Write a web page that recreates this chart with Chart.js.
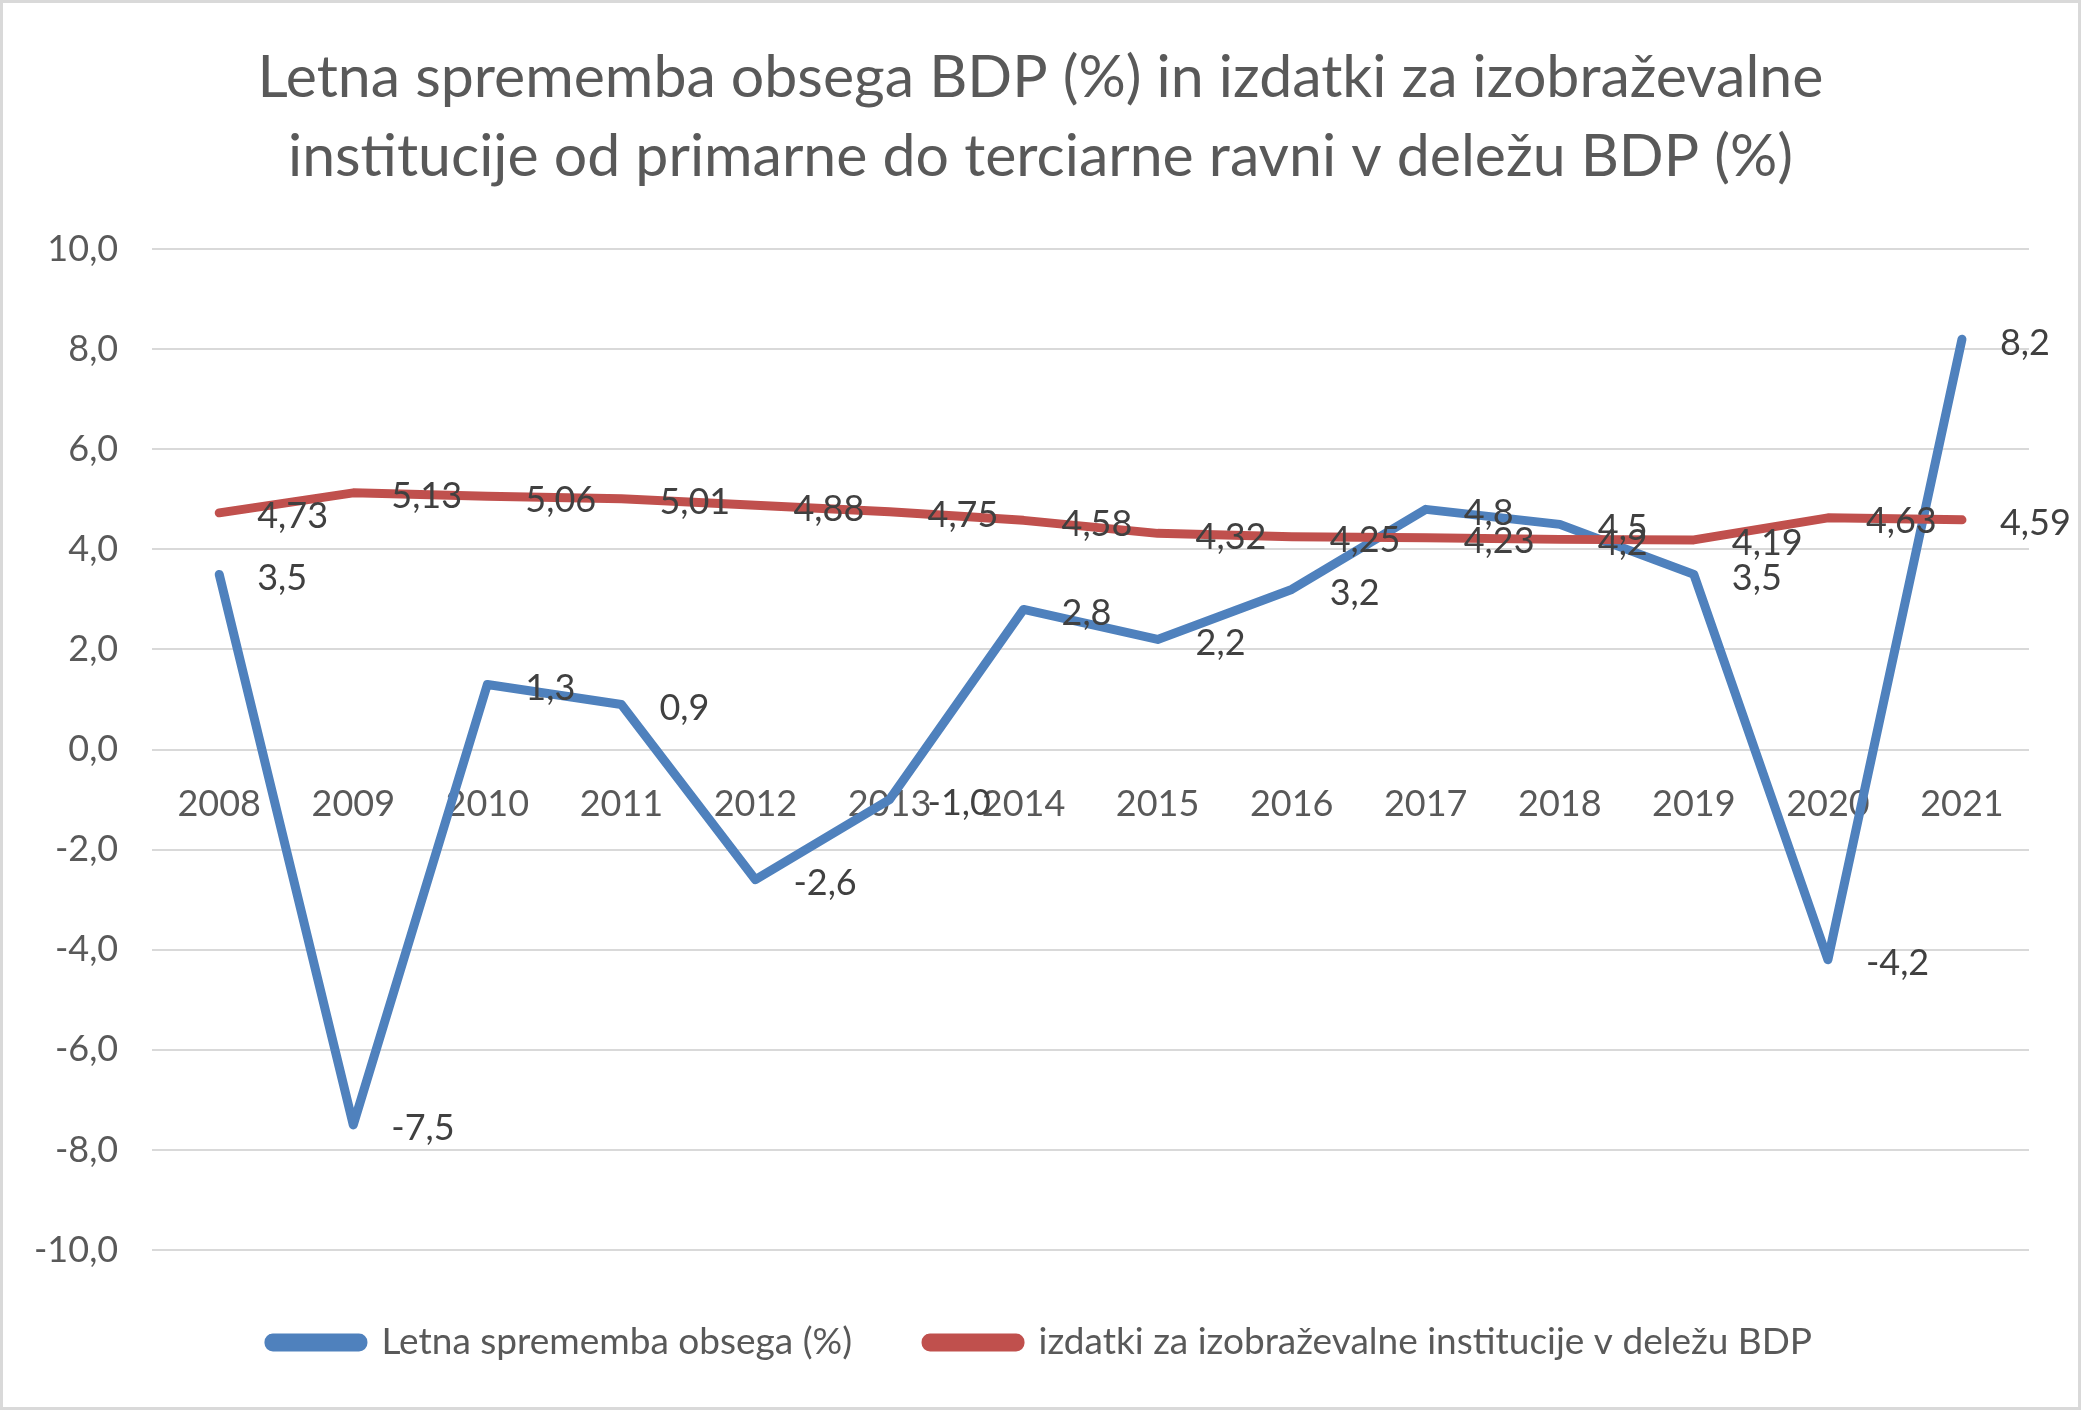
<!DOCTYPE html>
<html>
<head>
<meta charset="utf-8">
<script src="https://cdn.jsdelivr.net/npm/chart.js@4.4.1/dist/chart.umd.min.js"></script>
<style>
  body { margin: 0; background: #fff; }
</style>
</head>
<body>
<canvas id="myChart" width="2081" height="1410"></canvas>
<script>
const years = ['2008', '2009', '2010', '2011', '2012', '2013', '2014', '2015', '2016', '2017', '2018', '2019', '2020', '2021'];
const gdpChange = [3.5, -7.5, 1.3, 0.9, -2.6, -1.0, 2.8, 2.2, 3.2, 4.8, 4.5, 3.5, -4.2, 8.2];
const eduSpending = [4.73, 5.13, 5.06, 5.01, 4.88, 4.75, 4.58, 4.32, 4.25, 4.23, 4.2, 4.19, 4.63, 4.59];
const seriesNames = ['Letna sprememba obsega (%)', 'izdatki za izobraževalne institucije v deležu BDP'];
const titleLines = [
    'Letna sprememba obsega BDP (%) in izdatki za izobraževalne',
    'institucije od primarne do terciarne ravni v deležu BDP (%)'
];

const FONT = 'Lato';
const comma = (s) => String(s).replace('.', ',');

// white background + thin grey frame like the Excel chart area
const frame = {
    id: 'frame',
    beforeDraw(chart) {
        const c = chart.ctx;
        c.save();
        c.fillStyle = '#ffffff';
        c.fillRect(0, 0, chart.width, chart.height);
        c.restore();
    },
    afterDraw(chart) {
        const c = chart.ctx;
        c.save();
        c.strokeStyle = '#d9d9d9';
        c.lineWidth = 3;
        c.strokeRect(1.5, 1.5, chart.width - 3, chart.height - 3);
        c.restore();
    }
};

// value labels to the right of each point
const valueLabels = {
    id: 'valueLabels',
    afterDatasetsDraw(chart) {
        const c = chart.ctx;
        c.save();
        c.font = '36px ' + FONT;
        c.fillStyle = '#404040';
        c.textAlign = 'left';
        c.textBaseline = 'middle';
        chart.data.datasets.forEach((ds, i) => {
            const meta = chart.getDatasetMeta(i);
            meta.data.forEach((pt, j) => {
                const v = ds.data[j];
                const txt = i === 0 ? comma(v.toFixed(1)) : comma(v);
                c.fillText(txt, pt.x + 38, pt.y + 4);
            });
        });
        c.restore();
    }
};

const ctx = document.getElementById('myChart').getContext('2d');

const data = {
    labels: years,
    datasets: [
        {
            label: seriesNames[0],
            data: gdpChange,
            borderColor: '#4f81bd',
            backgroundColor: '#4f81bd',
            borderWidth: 9,
            pointRadius: 0,
            tension: 0,
            borderCapStyle: 'round',
            borderJoinStyle: 'round',
            order: 2
        },
        {
            label: seriesNames[1],
            data: eduSpending,
            borderColor: '#c0504d',
            backgroundColor: '#c0504d',
            borderWidth: 9,
            pointRadius: 0,
            tension: 0,
            borderCapStyle: 'round',
            borderJoinStyle: 'round',
            order: 1
        }
    ]
};

const options = {
    responsive: false,
    devicePixelRatio: 1,
    animation: false,
    layout: {
        padding: { left: 0, right: 0, top: 38, bottom: 39 }
    },
    scales: {
        x: {
            type: 'category',
            offset: true,
            position: { y: 0 },
            grid: { display: false },
            border: { display: false },
            ticks: {
                color: '#595959',
                font: { family: FONT, size: 36 },
                padding: 25,
                maxRotation: 0,
                autoSkip: false
            }
        },
        y: {
            min: -10,
            max: 10,
            grid: { color: '#d9d9d9', lineWidth: 2, drawTicks: false },
            border: { display: false },
            ticks: {
                stepSize: 2,
                color: '#595959',
                font: { family: FONT, size: 36 },
                padding: 34,
                callback: (v) => comma(Number(v).toFixed(1))
            }
        },
        // empty right margin so title and legend stay centred on the canvas
        yRight: {
            position: 'right',
            grid: { display: false },
            border: { display: false },
            ticks: { display: false },
            afterFit: (scale) => { scale.width = 52; }
        }
    },
    plugins: {
        title: {
            display: true,
            text: titleLines,
            color: '#595959',
            font: { family: FONT, size: 59, weight: 'normal', lineHeight: 1.34 },
            padding: { top: 0, bottom: 53 }
        },
        legend: {
            display: true,
            position: 'bottom',
            labels: {
                color: '#595959',
                font: { family: FONT, size: 37 },
                boxWidth: 94,
                boxHeight: 9,
                useBorderRadius: true,
                borderRadius: 4,
                padding: 74,
                sort: (a, b) => a.datasetIndex - b.datasetIndex
            }
        },
        tooltip: { enabled: false }
    }
};

const myChart = new Chart(ctx, {
    type: 'line',
    data: data,
    options: options,
    plugins: [frame, valueLabels]
});
</script>
</body>
</html>
